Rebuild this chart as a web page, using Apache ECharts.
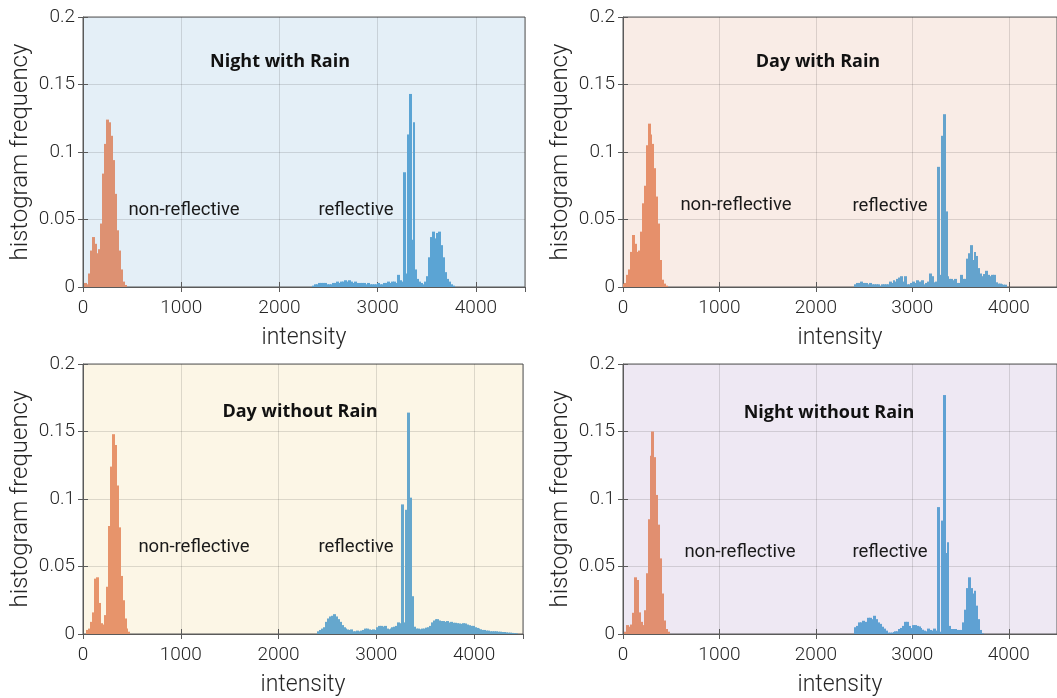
<!DOCTYPE html>
<html>
<head>
<meta charset="utf-8">
<script src="https://cdn.jsdelivr.net/npm/echarts@6/dist/echarts.min.js"></script>
<style>
  html, body { margin: 0; padding: 0; background: #fff; }
  #main { width: 1057px; height: 698px; }
</style>
</head>
<body>
<div id="main"></div>
<script>
// histogram bin width (intensity units)
var binWidth = 20;

var panelTitles = ['Night with Rain', 'Day with Rain', 'Day without Rain', 'Night without Rain'];
var xTicks = [0, 1000, 2000, 3000, 4000];
var yTicks = [0, 0.05, 0.1, 0.15, 0.2];

// first bin start of each histogram
var nightRainOrangeStart = 20;
var nightRainOrange = [0.003,0.002,0.010,0.027,0.037,0.032,0.025,0.028,0.047,0.084,0.106,0.124,0.122,0.112,0.094,0.069,0.042,0.027,0.013,0.004,0.0015];
var nightRainBlueStart = 2340;
var nightRainBlue = [0.001,0.002,0.002,0.003,0.003,0.003,0.003,0.002,0.002,0.002,
  0.003,0.003,0.004,0.003,0.004,0.004,0.005,0.004,0.005,0.004,
  0.003,0.004,0.003,0.003,0.003,0.003,0.003,0.002,0.003,0.002,
  0.002,0.002,0.002,0.003,0.002,0.002,0.003,0.003,0.004,0.003,
  0.004,0.004,0.003,0.009,0.005,0.004,0.085,0.010,0.113,0.143,
  0.035,0.122,0.013,0.006,0.004,0.003,0.002,0.004,0.008,0.022,
  0.037,0.041,0.036,0.040,0.041,0.031,0.022,0.011,0.006,0.004,
  0.002,0.001];

var dayRainOrangeStart = 0;
var dayRainOrange = [0.0025,0.003,0.009,0.013,0.026,0.0385,0.032,0.026,0.027,0.041,0.062,0.075,0.105,0.121,0.113,0.106,0.088,0.067,0.047,0.020,0.0054,0.0025,0.001];
var dayRainBlueStart = 2400;
var dayRainBlue = [0.002,0.003,0.003,0.004,0.003,0.003,0.003,0.002,0.003,0.002,
  0.002,0.002,0.002,0.001,0.002,0.002,0.002,0.002,0.004,0.003,
  0.005,0.004,0.006,0.007,0.008,0.004,0.008,0.002,0.002,0.003,
  0.004,0.003,0.005,0.004,0.003,0.005,0.002,0.003,0.004,0.010,
  0.008,0.0035,0.004,0.089,0.009,0.112,0.128,0.056,0.008,0.006,
  0.006,0.005,0.006,0.003,0.003,0.009,0.006,0.006,0.021,0.025,
  0.031,0.020,0.026,0.023,0.014,0.010,0.008,0.0096,0.012,0.009,
  0.008,0.009,0.009,0.0035,0.0025,0.0025,0.002,0.0017,0.0017];

var dayDryOrangeStart = 40;
var dayDryOrange = [0.003,0.004,0.009,0.016,0.041,0.042,0.023,0.008,0.007,0.014,0.035,0.080,0.124,0.148,0.140,0.110,0.079,0.043,0.025,0.0115,0.004,0.0017];
var dayDryBlueStart = 2400;
var dayDryBlue = [0.002,0.003,0.004,0.005,0.009,0.0115,0.013,0.0135,0.0147,0.013,
  0.011,0.009,0.0066,0.005,0.004,0.0034,0.003,0.0034,0.002,0.002,
  0.0025,0.002,0.0025,0.003,0.004,0.004,0.0034,0.003,0.0034,0.003,
  0.005,0.006,0.006,0.0055,0.006,0.004,0.0035,0.004,0.005,0.0054,
  0.006,0.0086,0.008,0.096,0.0086,0.092,0.164,0.101,0.028,0.0054,
  0.004,0.004,0.0035,0.004,0.004,0.0047,0.005,0.006,0.0086,0.010,
  0.011,0.011,0.010,0.0096,0.0096,0.009,0.0096,0.0085,0.009,0.0083,
  0.0083,0.008,0.0078,0.0075,0.008,0.0078,0.007,0.0065,0.006,0.006,
  0.005,0.0045,0.004,0.0035,0.003,0.003,0.0025,0.0025,0.002,0.002,
  0.002,0.002,0.0017,0.0017,0.0015,0.0015,0.0012,0.001,0.001,0.0008,
  0.0006,0.0005];

var nightDryOrangeStart = 20;
var nightDryOrange = [0.0017,0.0066,0.0054,0.007,0.0157,0.042,0.040,0.016,0.009,0.0066,0.0176,0.045,0.085,0.132,0.150,0.131,0.103,0.081,0.056,0.030,0.010,0.0037,0.0017];
var nightDryBlueStart = 2400;
var nightDryBlue = [0.005,0.006,0.0086,0.0086,0.0098,0.009,0.0074,0.012,0.012,0.011,
  0.0135,0.011,0.0086,0.0075,0.0054,0.004,0.0025,0.001,0.001,0.001,
  0.0015,0.002,0.002,0.0037,0.0045,0.006,0.009,0.009,0.006,0.0044,
  0.0066,0.0066,0.006,0.0056,0.0045,0.0032,0.0025,0.002,0.004,0.003,
  0.0025,0.004,0.0025,0.094,0.0017,0.084,0.177,0.060,0.068,0.006,
  0.0037,0.0037,0.0037,0.003,0.003,0.003,0.0086,0.018,0.034,0.042,
  0.034,0.030,0.032,0.021,0.011,0.003,0.0005];

var panelBg = [[228,239,247], [249,236,230], [252,246,230], [238,232,243]];
var orangeRgb = [217,83,25];
var blueRgb = [0,114,189];
var faceAlpha = 0.6;

var panels = [
  {orange: [nightRainOrangeStart, nightRainOrange], blue: [nightRainBlueStart, nightRainBlue]},
  {orange: [dayRainOrangeStart, dayRainOrange], blue: [dayRainBlueStart, dayRainBlue]},
  {orange: [dayDryOrangeStart, dayDryOrange], blue: [dayDryBlueStart, dayDryBlue]},
  {orange: [nightDryOrangeStart, nightDryOrange], blue: [nightDryBlueStart, nightDryBlue]}
];

// pixel layout of the four axes
var gridBox = [
  {left: 83, top: 17, width: 442, height: 270},
  {left: 623, top: 17, width: 442, height: 270},
  {left: 83, top: 364, width: 440, height: 272},
  {left: 623, top: 364, width: 442, height: 272}
];

var tickFont = 'Roboto, "Liberation Sans", sans-serif';
var axisGray = '#5a5a5a';

function rgb(c){ return 'rgb(' + c.join(',') + ')'; }
// histogram face colour seen through the panel background (opaque, no seams)
function blend(c, bg){
  return rgb(c.map(function(v, j){ return Math.round(v*faceAlpha + bg[j]*(1-faceAlpha)); }));
}

function toBins(start, vals){
  return vals.map(function(v, i){ return [start + i*binWidth, v]; });
}

function renderBar(params, api){
  var x0 = api.value(0);
  var start = api.coord([x0, api.value(1)]);
  var end = api.coord([x0 + binWidth, 0]);
  // snap horizontally to whole pixels so neighbouring bins join without seams
  var left = Math.floor(start[0]);
  var right = Math.ceil(end[0]);
  return {
    type: 'rect',
    shape: {x: left, y: start[1], width: right - left, height: end[1] - start[1]},
    style: {fill: api.visual('color')}
  };
}

var grids = [], xAxes = [], yAxes = [], series = [];
gridBox.forEach(function(g, i){
  grids.push({
    left: g.left, top: g.top, width: g.width, height: g.height,
    show: true, backgroundColor: rgb(panelBg[i]), borderColor: axisGray, borderWidth: 1
  });
  xAxes.push({
    type: 'value', gridIndex: i, min: 0, max: 4500, interval: 1000,
    name: 'intensity', nameLocation: 'middle', nameGap: 40,
    nameTextStyle: {fontSize: 23, color: '#262626', fontFamily: tickFont, fontWeight: 300},
    axisLine: {show: true, lineStyle: {color: axisGray}},
    axisTick: {show: true, inside: true, length: 5, lineStyle: {color: axisGray}},
    axisLabel: {fontSize: 19, color: '#262626', margin: 12, fontFamily: tickFont, fontWeight: 300,
      showMaxLabel: false, formatter: function(v){ return String(v); }},
    splitLine: {show: true, lineStyle: {color: 'rgba(38,38,38,0.15)'}}
  });
  yAxes.push({
    type: 'value', gridIndex: i, min: 0, max: 0.2, interval: 0.05,
    name: 'histogram frequency', nameLocation: 'middle', nameGap: 50,
    nameTextStyle: {fontSize: 24, color: '#262626', fontFamily: tickFont, fontWeight: 300},
    axisLine: {show: true, lineStyle: {color: axisGray}},
    axisTick: {show: true, inside: true, length: 5, lineStyle: {color: axisGray}},
    axisLabel: {fontSize: 19, color: '#262626', margin: 8, fontFamily: tickFont, fontWeight: 300,
      formatter: function(v){ return String(v); }},
    splitLine: {show: true, lineStyle: {color: 'rgba(38,38,38,0.15)'}}
  });
  series.push({
    type: 'custom', xAxisIndex: i, yAxisIndex: i, renderItem: renderBar,
    itemStyle: {color: blend(orangeRgb, panelBg[i])}, encode: {x: 0, y: 1},
    data: toBins(panels[i].orange[0], panels[i].orange[1])
  });
  series.push({
    type: 'custom', xAxisIndex: i, yAxisIndex: i, renderItem: renderBar,
    itemStyle: {color: blend(blueRgb, panelBg[i])}, encode: {x: 0, y: 1},
    data: toBins(panels[i].blue[0], panels[i].blue[1])
  });
});

// box ticks on the top and right edges
gridBox.forEach(function(g, i){
  xAxes.push({
    type: 'value', gridIndex: i, position: 'top', min: 0, max: 4500, interval: 1000,
    axisLine: {show: false}, axisLabel: {show: false}, splitLine: {show: false},
    axisTick: {show: true, inside: true, length: 5, lineStyle: {color: axisGray}}
  });
  yAxes.push({
    type: 'value', gridIndex: i, position: 'right', min: 0, max: 0.2, interval: 0.05,
    axisLine: {show: false}, axisLabel: {show: false}, splitLine: {show: false},
    axisTick: {show: true, inside: true, length: 5, lineStyle: {color: axisGray}}
  });
});

// panel titles and region labels
var titlePos = [[280, 62], [818, 62], [300, 412], [829, 413]];
var nonRefPos = [[184, 210], [736, 205], [194, 547], [740, 552]];
var refPos = [[356, 210], [890, 206], [356, 547], [890, 552]];
var texts = [];
for (var k = 0; k < 4; k++){
  texts.push({type: 'text', x: titlePos[k][0], y: titlePos[k][1], z: 100,
    style: {text: panelTitles[k], fontSize: 18, fontWeight: 'bold', fill: '#111',
      fontFamily: '"Open Sans", "Noto Sans", sans-serif', align: 'center', verticalAlign: 'middle'}});
  texts.push({type: 'text', x: nonRefPos[k][0], y: nonRefPos[k][1], z: 100,
    style: {text: 'non-reflective', fontSize: 18.5, fill: '#1a1a1a',
      fontFamily: tickFont, align: 'center', verticalAlign: 'middle'}});
  texts.push({type: 'text', x: refPos[k][0], y: refPos[k][1], z: 100,
    style: {text: 'reflective', fontSize: 18.5, fill: '#1a1a1a',
      fontFamily: tickFont, align: 'center', verticalAlign: 'middle'}});
}

var myChart = echarts.init(document.getElementById('main'));
myChart.setOption({
  animation: false,
  backgroundColor: '#fff',
  grid: grids,
  xAxis: xAxes,
  yAxis: yAxes,
  series: series,
  graphic: texts
});
</script>
</body>
</html>
